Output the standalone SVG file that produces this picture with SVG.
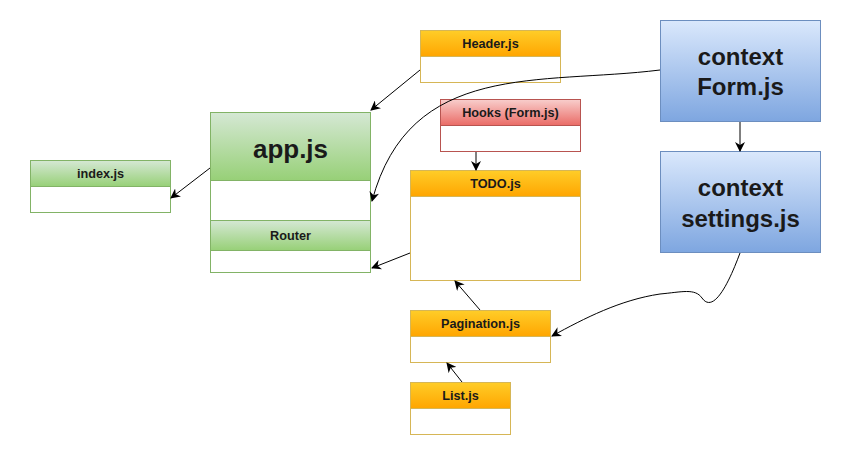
<svg xmlns="http://www.w3.org/2000/svg" width="850" height="469" viewBox="0 0 850 469">
<defs>
<linearGradient id="gGreen" x1="0" y1="0" x2="0" y2="1"><stop offset="0" stop-color="#d5e8d4"/><stop offset="1" stop-color="#97d077"/></linearGradient>
<linearGradient id="gOrange" x1="0" y1="0" x2="0" y2="1"><stop offset="0" stop-color="#ffcd28"/><stop offset="1" stop-color="#ffa500"/></linearGradient>
<linearGradient id="gRed" x1="0" y1="0" x2="0" y2="1"><stop offset="0" stop-color="#f8cecc"/><stop offset="1" stop-color="#ea6b66"/></linearGradient>
<linearGradient id="gBlue" x1="0" y1="0" x2="0" y2="1"><stop offset="0" stop-color="#dae8fc"/><stop offset="1" stop-color="#7ea6e0"/></linearGradient>
<marker id="arr" viewBox="0 0 10 10" refX="9" refY="5" markerWidth="10" markerHeight="10" markerUnits="userSpaceOnUse" orient="auto"><path d="M0,0 L10,5 L0,10 L3,5 Z" fill="#000"/></marker>
</defs>
<style>
text{font-family:"Liberation Sans",Arial,sans-serif;text-anchor:middle;dominant-baseline:central;fill:#1a1a1a}
.b{font-weight:bold}
.s{font-size:12.7px;font-weight:bold}
.big{font-size:26px;font-weight:bold}
.ctx{font-size:24px;font-weight:bold}
.green{stroke:#82b366;stroke-width:1}
.orange{stroke:#d6b656;stroke-width:1}
.red{stroke:#b85450;stroke-width:1}
.blue{stroke:#6c8ebf;stroke-width:1}
.body{fill:#fff}
.edge{fill:none;stroke:#000;stroke-width:1;marker-end:url(#arr)}
</style>
<rect width="850" height="469" fill="#fff"/>

<g id="index">
<rect class="green body" x="30.5" y="160.5" width="140" height="52"/>
<rect class="green" fill="url(#gGreen)" x="30.5" y="160.5" width="140" height="26"/>
<text class="s" x="100.5" y="174">index.js</text>
</g>

<g id="app">
<rect class="green body" x="210.5" y="112.5" width="160" height="160"/>
<rect class="green" fill="url(#gGreen)" x="210.5" y="112.5" width="160" height="68"/>
<text class="big" x="290.5" y="148.5">app.js</text>
<rect class="green" fill="url(#gGreen)" x="210.5" y="220.5" width="160" height="30"/>
<text class="s" x="290.5" y="236">Router</text>
</g>

<g id="header">
<rect class="orange body" x="420.5" y="30.5" width="140" height="52"/>
<rect class="orange" fill="url(#gOrange)" x="420.5" y="30.5" width="140" height="26"/>
<text class="s" x="490.5" y="44">Header.js</text>
</g>

<g id="hooks">
<rect class="red body" x="440.5" y="99.5" width="140" height="52"/>
<rect class="red" fill="url(#gRed)" x="440.5" y="99.5" width="140" height="26"/>
<text class="s" x="510.5" y="113">Hooks (Form.js)</text>
</g>

<g id="todo">
<rect class="orange body" x="410.5" y="170.5" width="170" height="110"/>
<rect class="orange" fill="url(#gOrange)" x="410.5" y="170.5" width="170" height="26"/>
<text class="s" x="495.5" y="184">TODO.js</text>
</g>

<g id="pagination">
<rect class="orange body" x="410.5" y="310.5" width="140" height="52"/>
<rect class="orange" fill="url(#gOrange)" x="410.5" y="310.5" width="140" height="26"/>
<text class="s" x="480.5" y="324">Pagination.js</text>
</g>

<g id="list">
<rect class="orange body" x="410.5" y="382.5" width="100" height="52"/>
<rect class="orange" fill="url(#gOrange)" x="410.5" y="382.5" width="100" height="26"/>
<text class="s" x="460.5" y="396">List.js</text>
</g>

<g id="contextForm">
<rect class="blue" fill="url(#gBlue)" x="660.5" y="20.5" width="160" height="101"/>
<text class="ctx" x="740.5" y="56">context</text>
<text class="ctx" x="740.5" y="86">Form.js</text>
</g>

<g id="contextSettings">
<rect class="blue" fill="url(#gBlue)" x="660.5" y="151.5" width="160" height="101"/>
<text class="ctx" x="740.5" y="187">context</text>
<text class="ctx" x="740.5" y="218">settings.js</text>
</g>

<g id="connectors">
<path class="edge" d="M210,168 L171,198"/>
<path class="edge" d="M420,70 L371,110"/>
<path class="edge" d="M660,70 C540,85 410,60 372,201"/>
<path class="edge" d="M476,152 L476,170"/>
<path class="edge" d="M410,253 L372,268"/>
<path class="edge" d="M480,310 L455,281"/>
<path class="edge" d="M462,382 L447,363"/>
<path class="edge" d="M740,122 L740,151"/>
<path class="edge" d="M740,253 C730,280 714,315 702,298 C695,288 682,292 660,294 C620,300 585,318 552,336"/>
</g>
</svg>
